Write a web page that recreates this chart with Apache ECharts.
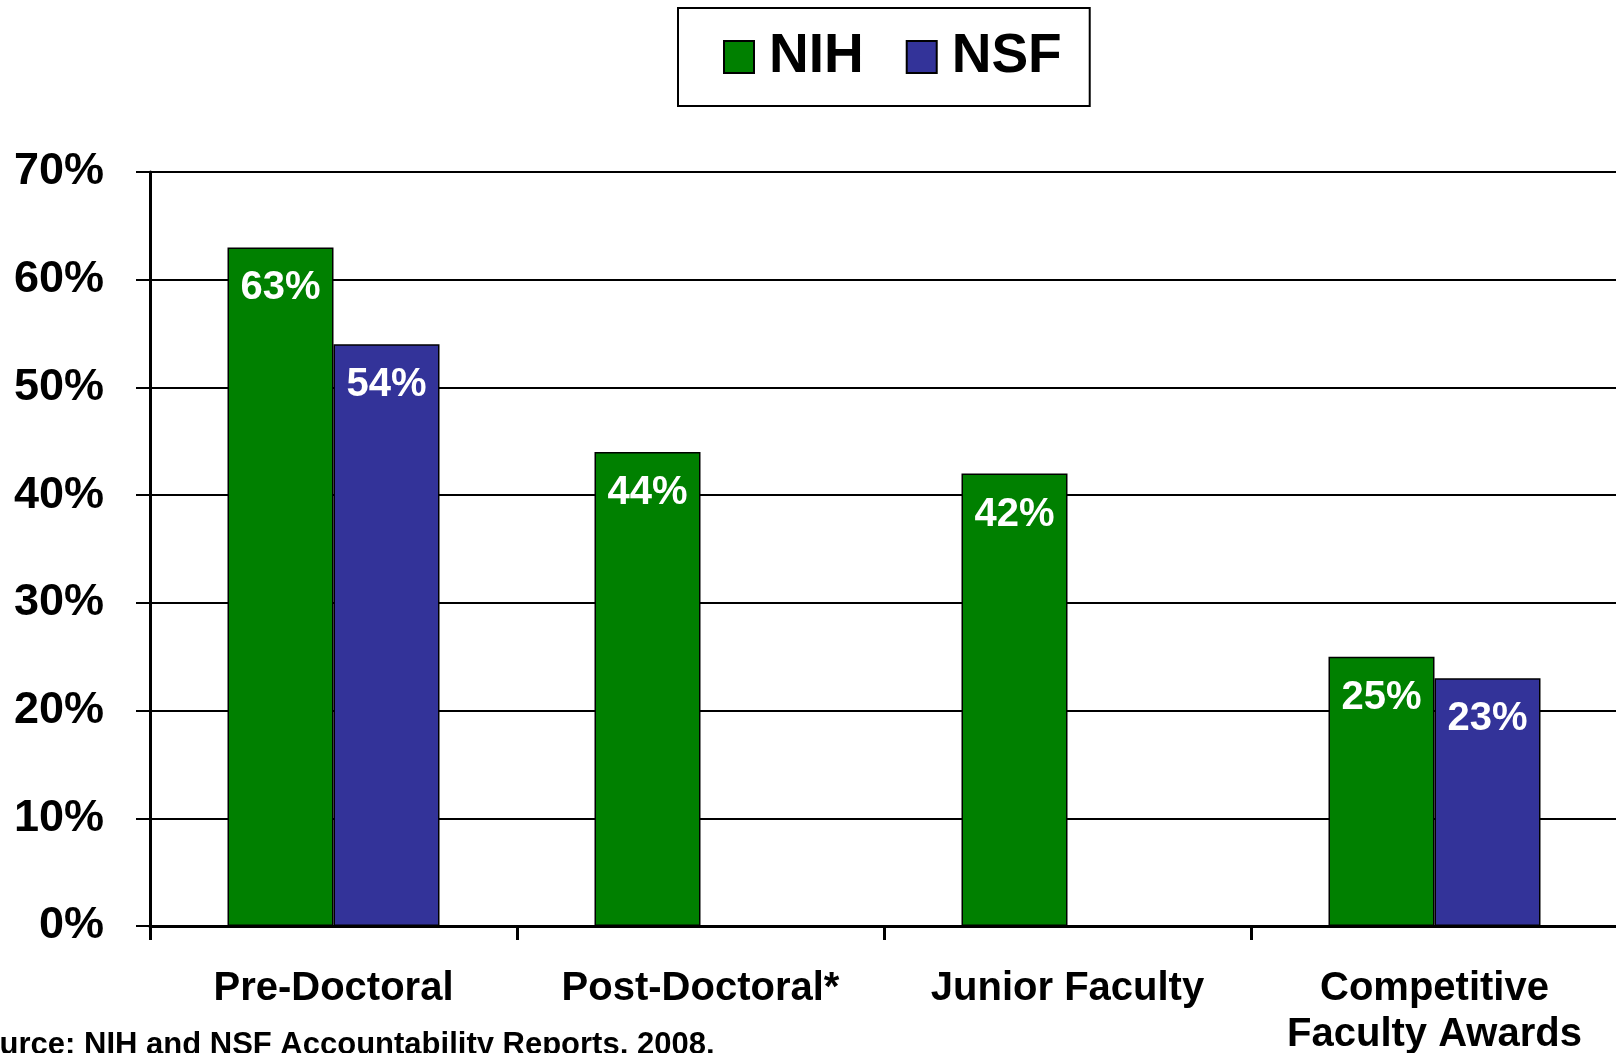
<!DOCTYPE html>
<html>
<head>
<meta charset="utf-8">
<script src="https://cdn.jsdelivr.net/npm/echarts@6/dist/echarts.min.js"></script>
<style>
html,body{margin:0;padding:0;background:#fff;}
#c{width:1616px;height:1053px;}
</style>
</head>
<body>
<div id="c"></div>
<script>
const categories = ['Pre-Doctoral', 'Post-Doctoral*', 'Junior Faculty', 'Competitive\nFaculty Awards'];
const nihValues = [63, 44, 42, 25];
const nsfValues = [54, null, null, 23];
const yTicks = { min: 0, max: 70, interval: 10 };
const sourceText = 'Source: NIH and NSF Accountability Reports, 2008.';

const FONT = '"Liberation Sans", Arial, Helvetica, sans-serif';
const chart = echarts.init(document.getElementById('c'), null, { renderer: 'canvas' });

const labelCfg = {
  show: true,
  position: 'insideTop',
  distance: 21,
  color: '#fff',
  fontFamily: FONT,
  fontWeight: 'bold',
  fontSize: 40,
  lineHeight: 40,
  formatter: p => p.value + '%'
};

chart.setOption({
  animation: false,
  backgroundColor: '#fff',
  legend: {
    left: 678,
    top: 8,
    padding: [21, 28, 21, 45],
    borderColor: '#000',
    borderWidth: 2,
    itemWidth: 30,
    itemHeight: 32,
    itemGap: 42,
    icon: 'rect',
    textStyle: {
      color: '#000',
      fontFamily: FONT,
      fontWeight: 'bold',
      fontSize: 55,
      lineHeight: 56,
      padding: [0, 0, 0, 10]
    },
    data: [
      { name: 'NIH', itemStyle: { borderColor: '#000', borderWidth: 2 } },
      { name: 'NSF', itemStyle: { borderColor: '#000', borderWidth: 2 } }
    ]
  },
  grid: { left: 150, top: 172, width: 1468, height: 754, containLabel: false, outerBoundsMode: 'none' },
  xAxis: {
    type: 'category',
    data: categories,
    boundaryGap: true,
    axisLine: { lineStyle: { color: '#000', width: 3 } },
    axisTick: { show: true, length: 14, lineStyle: { color: '#000', width: 3 } },
    axisLabel: {
      color: '#000',
      fontFamily: FONT,
      fontWeight: 'bold',
      fontSize: 40,
      lineHeight: 46,
      margin: 40,
      interval: 0
    },
    splitLine: { show: false }
  },
  yAxis: {
    type: 'value',
    min: yTicks.min,
    max: yTicks.max,
    interval: yTicks.interval,
    axisLine: { show: true, lineStyle: { color: '#000', width: 3 } },
    axisTick: { show: true, length: 14, lineStyle: { color: '#000', width: 2 } },
    axisLabel: {
      color: '#000',
      fontFamily: FONT,
      fontWeight: 'bold',
      fontSize: 45,
      margin: 46,
      formatter: '{value}%'
    },
    splitLine: { show: true, lineStyle: { color: '#000', width: 2 } }
  },
  series: [
    {
      name: 'NIH',
      type: 'bar',
      data: nihValues,
      barWidth: 106,
      barGap: '0%',
      itemStyle: { color: '#008000', borderColor: '#000', borderWidth: 1.5 },
      label: labelCfg
    },
    {
      name: 'NSF',
      type: 'bar',
      data: nsfValues,
      barWidth: 106,
      barGap: '0%',
      itemStyle: { color: '#333399', borderColor: '#000', borderWidth: 1.5 },
      label: labelCfg
    }
  ],
  graphic: [
    {
      type: 'text',
      left: -40,
      top: 1030,
      style: {
        text: sourceText,
        fill: '#000',
        font: 'bold 31px ' + FONT
      }
    }
  ]
});
</script>
</body>
</html>
